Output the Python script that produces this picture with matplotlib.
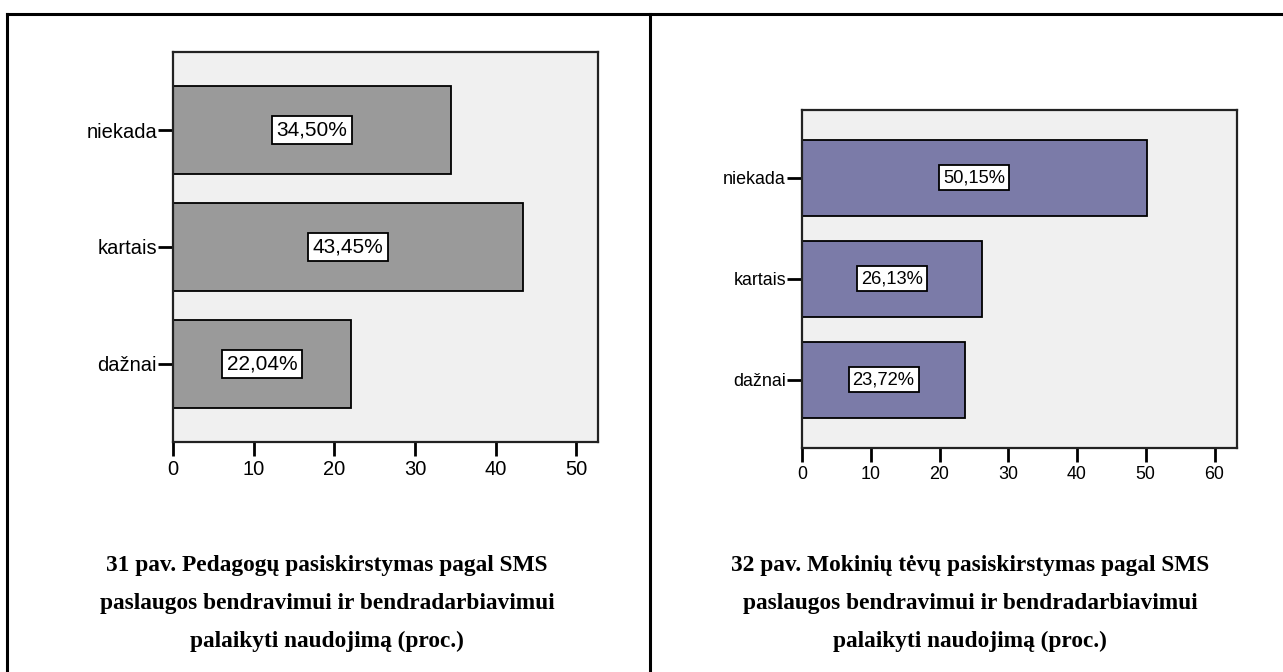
import matplotlib.pyplot as plt
from matplotlib.lines import Line2D

plt.rcParams['font.family'] = ['Liberation Sans', 'DejaVu Sans']

# data
categories = ['niekada', 'kartais', 'dažnai']
teachers = [34.50, 43.45, 22.04]
parents = [50.15, 26.13, 23.72]
left_ticks = [0, 10, 20, 30, 40, 50]
right_ticks = [0, 10, 20, 30, 40, 50, 60]
left_caption = ['31 pav. Pedagogų pasiskirstymas pagal SMS',
                'paslaugos bendravimui ir bendradarbiavimui',
                'palaikyti naudojimą (proc.)']
right_caption = ['32 pav. Mokinių tėvų pasiskirstymas pagal SMS',
                 'paslaugos bendravimui ir bendradarbiavimui',
                 'palaikyti naudojimą (proc.)']

W, H = 1283, 672
fig = plt.figure(figsize=(W / 100, H / 100), dpi=100)


def px_axes(x0, y0, x1, y1):
    # pixel box (top-left origin) -> figure axes
    return fig.add_axes([x0 / W, 1 - y1 / H, (x1 - x0) / W, (y1 - y0) / H])


def draw_panel(ax, values, color, ticks, xmax, fs, label_fs):
    ypos = list(range(len(categories)))
    ax.set_facecolor('#f0f0f0')
    ax.barh(ypos, values, height=0.75, color=color, edgecolor='black', linewidth=1.3, zorder=2)
    for y, v in zip(ypos, values):
        ax.text(v / 2, y, f'{v:.2f}%'.replace('.', ','), ha='center', va='center',
                fontsize=label_fs, zorder=3,
                bbox=dict(boxstyle='square,pad=0.22', fc='white', ec='black', lw=1.3))
    ax.set_xlim(0, xmax)
    ax.set_ylim(2.67, -0.67)
    ax.set_yticks(ypos)
    ax.set_yticklabels(categories, fontsize=fs)
    ax.set_xticks(ticks)
    ax.set_xticklabels([str(t) for t in ticks], fontsize=fs)
    ax.tick_params(axis='both', length=10, width=2, color='black', pad=3)
    ax.tick_params(axis='y', length=11, pad=0.5)
    for s in ax.spines.values():
        s.set_linewidth(1.6)
        s.set_color('#222222')


ax1 = px_axes(173, 52, 598, 442)
draw_panel(ax1, teachers, '#9a9a9a', left_ticks, 52.7, 14.5, 15)

ax2 = px_axes(802, 110, 1236.5, 447.5)
draw_panel(ax2, parents, '#7b7ba8', right_ticks, 63.2, 12.9, 13.2)

# table borders
lw = 2.2
fig.add_artist(Line2D([7 / W, 1], [1 - 13.5 / H] * 2, color='black', lw=lw))
fig.add_artist(Line2D([7 / W] * 2, [0, 1 - 13.5 / H], color='black', lw=lw))
fig.add_artist(Line2D([650 / W] * 2, [0, 1 - 13.5 / H], color='black', lw=lw))

# captions
cap_y = [566, 603, 641]
for cx, lines in [(327, left_caption), (970, right_caption)]:
    for y, line in zip(cap_y, lines):
        fig.text(cx / W, 1 - y / H, line, ha='center', va='center', fontsize=16.8,
                 fontweight='bold', family=['Liberation Serif', 'DejaVu Serif'])

fig.savefig('out.png', dpi=100)
